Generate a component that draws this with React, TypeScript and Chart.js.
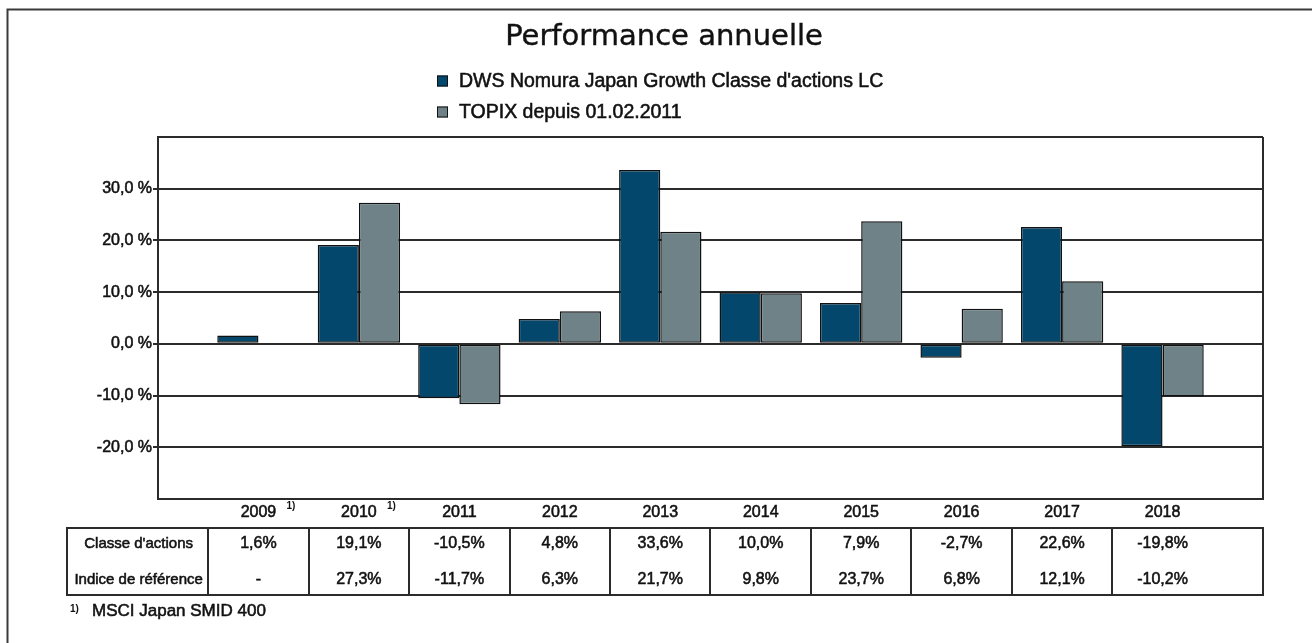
import React, { useEffect, useRef } from "react";
import { Chart, registerables } from "chart.js";

Chart.register(...registerables);

const chartTitle = "Performance annuelle";
const years = ["2009", "2010", "2011", "2012", "2013", "2014", "2015", "2016", "2017", "2018"];
const footnotedYears = ["2009", "2010"];
const dwsLabel = "DWS Nomura Japan Growth Classe d'actions LC";
const topixLabel = "TOPIX depuis 01.02.2011";
const dwsValues: (number | null)[] = [1.6, 19.1, -10.5, 4.8, 33.6, 10.0, 7.9, -2.7, 22.6, -19.8];
const topixValues: (number | null)[] = [null, 27.3, -11.7, 6.3, 21.7, 9.8, 23.7, 6.8, 12.1, -10.2];
const rowLabels = ["Classe d'actions", "Indice de référence"];
const footnoteText = "MSCI Japan SMID 400";
const yMin = -30;
const yMax = 40;
const yStep = 10;

const SANS = "'Liberation Sans', Arial, sans-serif";
const DARK = "#04476c";
const GREY = "#6e8287";
const LINE = "#2b2b2b";
const TEXT = "#111111";
const STROKE_W = 0.55;

const fmtPct = (v: number | null) => (v === null ? "-" : v.toFixed(1).replace(".", ",") + "%");

function heavyText(ctx: CanvasRenderingContext2D, s: string, x: number, y: number) {
  ctx.fillText(s, x, y);
  ctx.strokeText(s, x, y);
}

export default function App() {
  const ref = useRef<HTMLCanvasElement | null>(null);

  useEffect(() => {
    if (!ref.current) return;
    const labels = ["", ...years, ""];

    const overlay = {
      id: "overlay",
      afterDraw(chart: any) {
        const ctx = chart.ctx as CanvasRenderingContext2D;
        const area = chart.chartArea;
        const xs = chart.scales.x;
        ctx.save();
        // outer frame
        ctx.strokeStyle = "#3a3a3a";
        ctx.lineWidth = 2;
        ctx.strokeRect(7.5, 9.5, 1330, 700);
        // plot right border
        ctx.strokeStyle = LINE;
        ctx.lineWidth = 2;
        ctx.beginPath();
        ctx.moveTo(area.right, area.top);
        ctx.lineTo(area.right, area.bottom);
        ctx.stroke();

        // title
        ctx.fillStyle = TEXT;
        ctx.strokeStyle = TEXT;
        ctx.lineWidth = 0.4;
        ctx.font = "29px 'DejaVu Sans', Verdana, sans-serif";
        ctx.textAlign = "center";
        ctx.textBaseline = "middle";
        heavyText(ctx, chartTitle, 664, 37);

        // legend
        const ds = chart.data.datasets;
        const legendY = [81, 112];
        ds.forEach((d: any, i: number) => {
          ctx.fillStyle = d.backgroundColor;
          ctx.fillRect(437, legendY[i] - 5.5, 11, 11);
          ctx.strokeStyle = "#111";
          ctx.lineWidth = 1;
          ctx.strokeRect(437.5, legendY[i] - 5, 10, 10);
          ctx.fillStyle = TEXT;
          ctx.lineWidth = STROKE_W;
          ctx.font = `19.5px ${SANS}`;
          ctx.textAlign = "left";
          ctx.textBaseline = "middle";
          heavyText(ctx, d.label, 459, legendY[i] + 1);
        });

        // superscripts on x labels
        ctx.font = `bold 10px ${SANS}`;
        ctx.textAlign = "left";
        ctx.textBaseline = "middle";
        ctx.fillStyle = TEXT;
        years.forEach((y, i) => {
          if (footnotedYears.includes(y)) {
            const cx = xs.getPixelForValue(i + 1);
            ctx.fillText("1)", cx + 28, 506);
          }
        });

        // table
        const step = xs.getPixelForValue(2) - xs.getPixelForValue(1);
        const tTop = 528;
        const tBottom = 595;
        const tLeft = 67;
        const tRight = area.right;
        ctx.strokeStyle = LINE;
        ctx.lineWidth = 2;
        ctx.strokeRect(tLeft, tTop, tRight - tLeft, tBottom - tTop);
        ctx.beginPath();
        years.forEach((_, i) => {
          const x = Math.round(xs.getPixelForValue(i + 1) - step / 2);
          ctx.moveTo(x, tTop);
          ctx.lineTo(x, tBottom);
        });
        ctx.stroke();
        const rowY = [544, 580];
        const firstDiv = xs.getPixelForValue(1) - step / 2;
        ctx.fillStyle = TEXT;
        ctx.strokeStyle = TEXT;
        ctx.lineWidth = STROKE_W;
        ctx.textAlign = "center";
        ctx.textBaseline = "middle";
        ctx.font = `15px ${SANS}`;
        rowLabels.forEach((r, k) => heavyText(ctx, r, (tLeft + firstDiv) / 2 + 1, rowY[k]));
        ctx.font = `16px ${SANS}`;
        years.forEach((_, i) => {
          const cx = xs.getPixelForValue(i + 1);
          heavyText(ctx, fmtPct(dwsValues[i]), cx, rowY[0]);
          heavyText(ctx, fmtPct(topixValues[i]), cx, rowY[1]);
        });

        // footnote
        ctx.textAlign = "left";
        ctx.font = `bold 10px ${SANS}`;
        ctx.fillText("1)", 70, 609);
        ctx.font = `17px ${SANS}`;
        heavyText(ctx, footnoteText, 92, 611);
        ctx.restore();
      },
    };

    const chart = new Chart(ref.current, {
      type: "bar",
      data: {
        labels,
        datasets: [
          {
            label: dwsLabel,
            data: [null, ...dwsValues, null],
            backgroundColor: DARK,
            borderColor: "#111",
            borderWidth: 1.5,
            borderSkipped: false,
          },
          {
            label: topixLabel,
            data: [null, ...topixValues, null],
            backgroundColor: GREY,
            borderColor: "#111",
            borderWidth: 1.5,
            borderSkipped: false,
          },
        ],
      },
      options: {
        responsive: false,
        animation: false,
        devicePixelRatio: 1,
        layout: { padding: { left: 0, top: 137, right: 49, bottom: 114 } },
        datasets: { bar: { categoryPercentage: 0.82, barPercentage: 1 } },
        plugins: {
          legend: { display: false },
          title: { display: false },
          tooltip: { enabled: false },
        },
        scales: {
          x: {
            offset: false,
            grid: { display: false, drawTicks: false },
            border: { display: true, color: LINE, width: 2 },
            ticks: {
              color: TEXT,
              textStrokeColor: TEXT,
              textStrokeWidth: STROKE_W,
              font: { family: SANS, size: 16 },
              padding: 4,
              maxRotation: 0,
              autoSkip: false,
            },
            afterFit: (s: any) => {
              s.height = 30;
            },
          },
          y: {
            min: yMin,
            max: yMax,
            grid: {
              color: LINE,
              lineWidth: 2,
              tickLength: 5,
              tickColor: (c: any) =>
                c.tick && (c.tick.value === yMin || c.tick.value === yMax) ? "rgba(0,0,0,0)" : LINE,
            },
            border: { display: true, color: LINE, width: 2 },
            ticks: {
              stepSize: yStep,
              color: TEXT,
              textStrokeColor: TEXT,
              textStrokeWidth: STROKE_W,
              padding: 1,
              font: { family: SANS, size: 16 },
              callback: (v: any) =>
                v === yMin || v === yMax ? "" : Number(v).toFixed(1).replace(".", ",") + " %",
            },
            afterFit: (s: any) => {
              s.width = 158;
            },
          },
        },
      },
      plugins: [overlay],
    });
    return () => chart.destroy();
  }, []);

  return (
    <div style={{ position: "absolute", left: 0, top: 0, width: 1312, height: 643, background: "#fff" }}>
      <canvas ref={ref} width={1312} height={643} style={{ display: "block", width: 1312, height: 643 }} />
    </div>
  );
}
